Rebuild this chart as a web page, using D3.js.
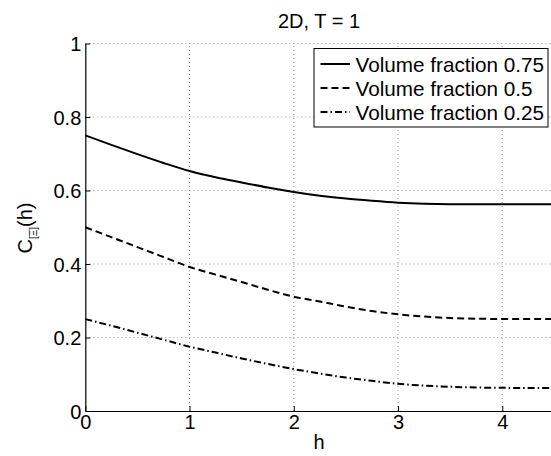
<!DOCTYPE html>
<html>
<head>
<meta charset="utf-8">
<script src="https://cdn.jsdelivr.net/npm/d3@7"></script>
<style>
  body { margin: 0; background: #fff; }
  text { font-family: "Liberation Sans", Arial, sans-serif; fill: #000; }
</style>
</head>
<body>
<svg id="chart" width="551" height="456"></svg>
<script>
const hValues = [0, 0.25, 0.5, 0.75, 1, 1.25, 1.5, 1.75, 2, 2.25, 2.5, 2.75, 3, 3.25, 3.5, 3.75, 4, 4.5];
const vf075 = [0.75, 0.724, 0.699, 0.675, 0.653, 0.636, 0.622, 0.608, 0.596, 0.586, 0.578, 0.572, 0.567, 0.564, 0.5628, 0.5626, 0.5625, 0.5625];
const vf050 = [0.5, 0.473, 0.446, 0.419, 0.392, 0.371, 0.351, 0.330, 0.311, 0.298, 0.284, 0.272, 0.263, 0.257, 0.253, 0.251, 0.2505, 0.25];
const vf025 = [0.25, 0.232, 0.213, 0.194, 0.175, 0.159, 0.143, 0.128, 0.114, 0.102, 0.091, 0.082, 0.074, 0.069, 0.066, 0.064, 0.063, 0.0625];
const seriesNames = ["Volume fraction 0.75", "Volume fraction 0.5", "Volume fraction 0.25"];
const xTicks = [0, 1, 2, 3, 4];
const yTicks = [0, 0.2, 0.4, 0.6, 0.8, 1];

const svg = d3.select("#chart");

// --- params ---
const plotLeft = 85.3, plotRight = 554.4, plotTop = 43.5, plotBottom = 411;
const fontSize = 20;
const legendFont = 20.7;
const dashes = [null, "7,4", "7,3,1.5,3"];

const x = d3.scaleLinear().domain([0, 4.5]).range([plotLeft, plotRight]);
const y = d3.scaleLinear().domain([0, 1]).range([plotBottom, plotTop]);

// grid
const grid = svg.append("g").attr("stroke", "#999").attr("stroke-width", 1)
  .attr("stroke-dasharray", "1,3");
xTicks.filter(d => d > 0).forEach(d => {
  grid.append("line").attr("x1", x(d)).attr("x2", x(d)).attr("y1", plotBottom).attr("y2", plotTop);
});
yTicks.filter(d => d > 0).forEach(d => {
  grid.append("line").attr("x1", plotLeft).attr("x2", plotRight).attr("y1", y(d)).attr("y2", y(d));
});

// axes
const xAxis = d3.axisBottom(x).tickValues(xTicks).tickFormat(d3.format("d"))
  .tickSizeInner(-5).tickSizeOuter(0).tickPadding(4);
const yAxis = d3.axisLeft(y).tickValues(yTicks).tickFormat(d => d === 0 || d === 1 ? d : d3.format(".1f")(d))
  .tickSizeInner(-5).tickSizeOuter(0).tickPadding(4);

const gx = svg.append("g").attr("transform", `translate(0,${plotBottom})`).call(xAxis);
const gy = svg.append("g").attr("transform", `translate(${plotLeft},0)`).call(yAxis);
[gx, gy].forEach(g => {
  g.select(".domain").attr("stroke", "#000").attr("stroke-width", 1.2);
  g.selectAll(".tick line").attr("stroke", "#000");
  g.selectAll(".tick text").attr("font-size", fontSize)
    .attr("font-family", "Liberation Sans, Arial, sans-serif").attr("fill", "#000");
});
gy.selectAll(".tick text").attr("dy", "0.36em");

// curves
const line = d3.line().x(d => x(d[0])).y(d => y(d[1])).curve(d3.curveMonotoneX);
[vf075, vf050, vf025].forEach((vals, i) => {
  svg.append("path")
    .datum(hValues.map((h, j) => [h, vals[j]]))
    .attr("d", line)
    .attr("fill", "none")
    .attr("stroke", "#000")
    .attr("stroke-width", 2)
    .attr("stroke-dasharray", dashes[i]);
});

// title and labels
svg.append("text").attr("x", 319).attr("y", 28).attr("text-anchor", "middle")
  .attr("font-size", fontSize).text("2D, T = 1");
svg.append("text").attr("x", 319).attr("y", 449).attr("text-anchor", "middle")
  .attr("font-size", fontSize).text("h");

const yl = svg.append("text")
  .attr("transform", `translate(32,228) rotate(-90)`)
  .attr("text-anchor", "middle").attr("font-size", fontSize);
yl.append("tspan").text("C");
yl.append("tspan").attr("font-size", 10).attr("dy", 5).text("[Ξ]");
yl.append("tspan").attr("dy", -5).text("(h)");

// legend
const lg = svg.append("g").attr("transform", "translate(314,48.5)");
lg.append("rect").attr("width", 234).attr("height", 78.5)
  .attr("fill", "#fff").attr("stroke", "#000").attr("stroke-width", 1);
seriesNames.forEach((name, i) => {
  const cy = 15.5 + i * 24;
  lg.append("line").attr("x1", 6.5).attr("x2", 36).attr("y1", cy).attr("y2", cy)
    .attr("stroke", "#000").attr("stroke-width", 2).attr("stroke-dasharray", dashes[i]);
  lg.append("text").attr("x", 41.5).attr("y", cy + 7.5).attr("font-size", legendFont).text(name);
});
</script>
</body>
</html>
